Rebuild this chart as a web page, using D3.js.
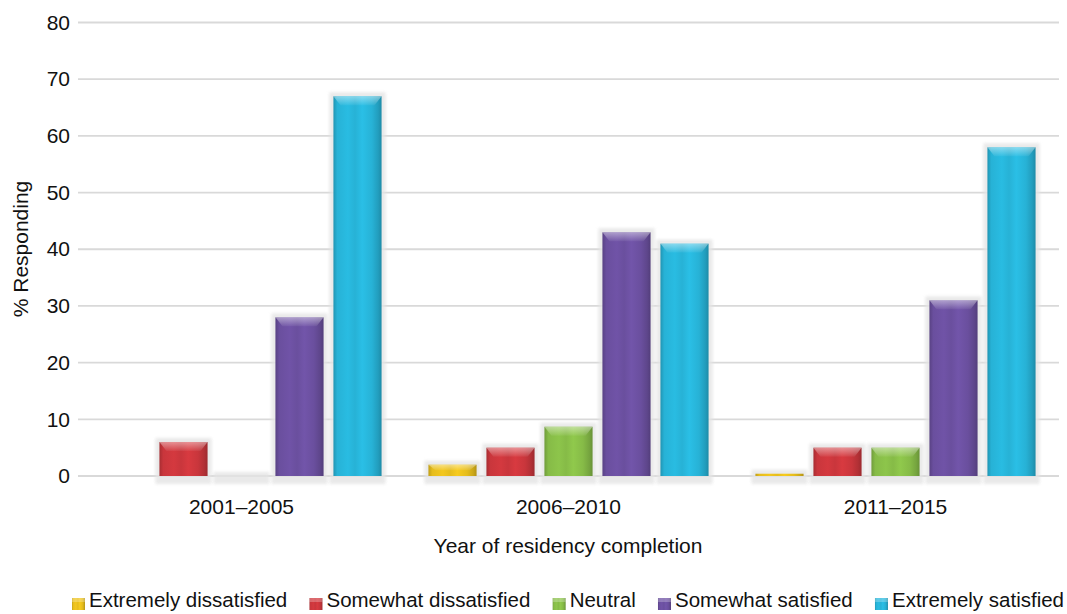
<!DOCTYPE html>
<html><head><meta charset="utf-8">
<script src="https://cdn.jsdelivr.net/npm/d3@7/dist/d3.min.js"></script>
<style>body{margin:0;background:#fff;}svg{display:block;font-family:"Liberation Sans",Arial,sans-serif;}</style>
</head><body><svg id="c" width="1067" height="614"></svg>
<script>
const groups = ["2001\u20132005", "2006\u20132010", "2011\u20132015"];
const series = ["Extremely dissatisfied", "Somewhat dissatisfied", "Neutral", "Somewhat satisfied", "Extremely satisfied"];
const extremelyDissatisfied = [null, 2, 0.4];
const somewhatDissatisfied = [6, 5, 5];
const neutral = [0, 8.7, 5];
const somewhatSatisfied = [28, 43, 31];
const extremelySatisfied = [67, 41, 58];
const yTicks = [0, 10, 20, 30, 40, 50, 60, 70, 80];
const colors = ["#e6bd1c", "#c9363c", "#86bb47", "#6a4f9e", "#27b2d6"];

const values = [extremelyDissatisfied, somewhatDissatisfied, neutral, somewhatSatisfied, extremelySatisfied];
const FONT = '"Liberation Sans",Arial,sans-serif';

const svg = d3.select("#c");
const L = 78, R = 1059, T = 22.5, B = 476;
const x0 = d3.scaleBand().domain(groups).range([L, R]).padding(0);
const x1 = d3.scaleBand().domain(series).range([0, x0.bandwidth()]).paddingInner(0.17).paddingOuter(0.404);
const y = d3.scaleLinear().domain([0, 80]).range([B, T]);

const defs = svg.append("defs");
colors.forEach((c, i) => {
  const base = d3.color(c);
  const g = defs.append("linearGradient").attr("id", "g" + i).attr("x1", 0).attr("x2", 1).attr("y1", 0).attr("y2", 0);
  const stops = [[0, base.darker(0.5)], [0.08, base], [0.3, base.brighter(0.15)], [0.45, base], [0.6, base.brighter(0.2)], [0.8, base], [0.93, base.darker(0.35)], [1, base.darker(0.7)]];
  stops.forEach(s => g.append("stop").attr("offset", s[0]).attr("stop-color", s[1]));
  const t = defs.append("linearGradient").attr("id", "t" + i).attr("x1", 0).attr("x2", 0).attr("y1", 0).attr("y2", 1);
  t.append("stop").attr("offset", 0).attr("stop-color", "#fff").attr("stop-opacity", 0.45);
  t.append("stop").attr("offset", 1).attr("stop-color", "#fff").attr("stop-opacity", 0.05);
});
defs.append("filter").attr("id", "blur").attr("x", "-20%").attr("y", "-20%").attr("width", "140%").attr("height", "140%")
  .append("feGaussianBlur").attr("stdDeviation", 1.5);

// gridlines
svg.append("g").selectAll("line").data(yTicks).join("line")
  .attr("x1", L).attr("x2", R).attr("y1", d => y(d)).attr("y2", d => y(d))
  .attr("stroke", "#d9d9d9").attr("stroke-width", 1.8);

// y axis labels
const yAxis = d3.axisLeft(y).tickValues(yTicks).tickSize(0).tickPadding(8);
const ya = svg.append("g").attr("transform", `translate(${L},0)`).call(yAxis);
ya.select(".domain").remove();
ya.selectAll("text").attr("font-size", 21).attr("fill", "#111").style("font-family", FONT);

// x axis labels
const xAxis = d3.axisBottom(x0).tickSize(0).tickPadding(23);
const xa = svg.append("g").attr("transform", `translate(0,${B})`).call(xAxis);
xa.select(".domain").remove();
xa.selectAll("text").attr("font-size", 21).attr("fill", "#111").style("font-family", FONT);

// bars
const data = [];
groups.forEach((g, gi) => series.forEach((s, si) => { if (values[si][gi] !== null) data.push({ g, s, si, v: values[si][gi] }); }));
const bars = svg.append("g").selectAll("g").data(data).join("g")
  .attr("transform", d => `translate(${x0(d.g) + x1(d.s)},0)`);
const bw = x1.bandwidth();
bars.append("rect").attr("x", -4).attr("width", bw + 8)
  .attr("y", d => y(d.v) - 4).attr("height", d => B - y(d.v) + 12)
  .attr("fill", "#e4e4e4").attr("opacity", 0.8).attr("filter", "url(#blur)");
bars.append("rect").attr("x", 0).attr("width", bw)
  .attr("y", d => y(d.v)).attr("height", d => B - y(d.v))
  .attr("fill", d => `url(#g${d.si})`);
bars.filter(d => B - y(d.v) > 4).append("path")
  .attr("d", d => {
    const top = y(d.v), h = Math.min(9, (B - top) / 2);
    return `M0,${top}L${bw},${top}L${bw - 7},${top + h}L7,${top + h}Z`;
  })
  .attr("fill", d => `url(#t${d.si})`);

// axis titles
svg.append("text").attr("x", 568).attr("y", 553).attr("text-anchor", "middle")
  .attr("font-size", 21).attr("fill", "#111").text("Year of residency completion");
svg.append("text").attr("transform", "translate(28,249) rotate(-90)").attr("text-anchor", "middle")
  .attr("font-size", 21).attr("fill", "#111").text("% Responding");

// legend
const lg = svg.append("g").attr("transform", "translate(0,607)");
const texts = series.map(s => lg.append("text").attr("y", 0).attr("font-size", 20.5).attr("fill", "#111").text(s));
const widths = texts.map(t => t.node().getComputedTextLength());
const sq = 13, sgap = 4, startX = 72, endX = 1064;
const total = widths.reduce((a, w) => a + sq + sgap + w, 0);
const gap = (endX - startX - total) / (series.length - 1);
let lx = startX;
series.forEach((s, i) => {
  lg.append("rect").attr("x", lx).attr("y", -9).attr("width", sq).attr("height", 12).attr("fill", `url(#g${i})`);
  lg.append("rect").attr("x", lx).attr("y", -9).attr("width", sq).attr("height", 4).attr("fill", "#fff").attr("opacity", 0.25);
  texts[i].attr("x", lx + sq + sgap);
  lx += sq + sgap + widths[i] + gap;
});
</script></body></html>
